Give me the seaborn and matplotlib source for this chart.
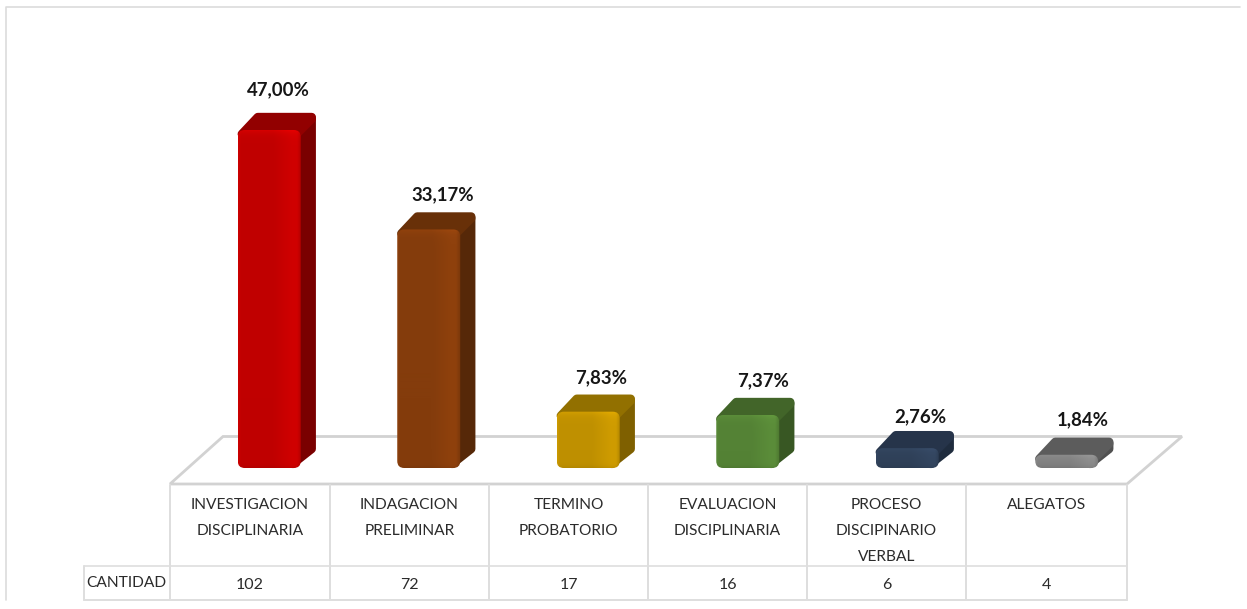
import numpy as np
import pandas as pd
import matplotlib
matplotlib.use("Agg")
import matplotlib.pyplot as plt
from matplotlib.patches import Polygon, FancyBboxPatch
from matplotlib.colors import to_rgb
import seaborn as sns

names = ["INVESTIGACION\nDISCIPLINARIA", "INDAGACION\nPRELIMINAR", "TERMINO\nPROBATORIO",
         "EVALUACION\nDISCIPLINARIA", "PROCESO\nDISCIPINARIO\nVERBAL", "ALEGATOS"]
pct = [47.00, 33.17, 7.83, 7.37, 2.76, 1.84]
labels = ["47,00%", "33,17%", "7,83%", "7,37%", "2,76%", "1,84%"]
counts = [102, 72, 17, 16, 6, 4]
front = ["#c00000", "#843c0c", "#bf9000", "#548235", "#2f4058", "#7f7f7f"]
side = ["#7a0000", "#562808", "#7f6000", "#385723", "#1f2c3e", "#505050"]
top = ["#920000", "#683008", "#927000", "#426529", "#26344a", "#5c5c5c"]
label_dx = [9, 14, 13, 15, 13, 16]
label_dy = [40, 35, 34, 34, 31, 35]

W, H = 1247, 609
sns.set_theme(style="white")
plt.rcParams['font.family'] = ['Lato', 'DejaVu Sans']
fig = plt.figure(figsize=(W/100, H/100), dpi=100)
bg = fig.add_axes([0, 0, 1, 1])
bg.axis("off")

GRID = "#dedede"
bg.plot([6, 6, 1240], [600, 7, 7], color="#dcdcdc", lw=1.2)
bg.add_patch(Polygon([[170, 484], [223, 436.5], [1182, 436.5], [1127, 484]], closed=True,
                     fc="white", ec="#d2d2d2", lw=2))

xs = [170, 330, 489, 648, 807, 966, 1127]
for x in xs:
    bg.plot([x, x], [485, 600], color=GRID, lw=1.4)
bg.plot([84, 84], [566, 600], color=GRID, lw=1.4)
bg.plot([84, 1127], [566, 566], color=GRID, lw=1.2)
bg.plot([84, 1127], [600, 600], color=GRID, lw=1.4)
TXT = "#2b2b2b"
bg.text(126, 583, "CANTIDAD", ha="center", va="center", fontsize=11.2, color=TXT)
for i, (n, c) in enumerate(zip(names, counts)):
    cx = (xs[i] + xs[i+1]) / 2
    for j, line in enumerate(n.split("\n")):
        bg.text(cx, 505 + 26*j, line, ha="center", va="center", fontsize=11.2, color=TXT)
    bg.text(cx, 585, str(c), ha="center", va="center", fontsize=11.5, color=TXT)

ax = fig.add_axes([189.5/W, 1-468/H, 957/W, 338/H])
ax.patch.set_alpha(0)
df = pd.DataFrame({"name": names, "pct": pct})
sns.barplot(data=df, x="name", y="pct", hue="name", palette=front, legend=False,
            width=0.395, ax=ax, saturation=1, zorder=3)
ax.set_xlim(-0.5, 5.5); ax.set_ylim(0, 47.0)
ax.axis("off")

dx, dy = 15, 16
for i, b in enumerate(ax.patches):
    x0, w, h = b.get_x(), b.get_width(), b.get_height()
    p0 = ax.transData.transform((x0, 0)); p1 = ax.transData.transform((x0 + w, h))
    l, r = p0[0], p1[0]; yb, yt = H - p0[1], H - p1[1]
    b.set_visible(False)
    inset = 4
    # side face
    bg.add_patch(Polygon([[r-8, yb-inset], [r+dx-inset, yb-dy-inset+1], [r+dx-inset, yt-dy+inset], [r-8, yt+inset]],
                 closed=True, fc=side[i], ec=side[i], lw=6, joinstyle="round", zorder=3))
    # top face
    bg.add_patch(Polygon([[l+inset, yt+4], [l+20, yt-dy-1+inset], [r+dx-inset, yt-dy-1+inset], [r+dx-inset, yt-dy+5], [r-4, yt+4]],
                 closed=True, fc=top[i], ec=top[i], lw=6, joinstyle="round", zorder=3.5))
    # front face: shaded image clipped to a rounded box
    nx, ny = 64, max(int(yb-yt), 4)
    u = np.linspace(0, 1, nx)
    across = np.interp(u, [0, 0.04, 0.55, 0.85, 0.93, 1], [1.06, 1.0, 1.0, 1.08, 1.08, 0.92])
    v = (np.arange(ny) + 0.5)
    down = 1 + 0.12*np.exp(-v/4.0) - 0.08*np.exp(-(ny-v)/2.0)
    shade = np.outer(down, across)[..., None]
    img = np.clip(np.array(to_rgb(front[i]))[None, None, :]*shade, 0, 1)
    im = bg.imshow(img, extent=(l, r, yb, yt), aspect="auto", zorder=4, interpolation="bilinear")
    clip = FancyBboxPatch((l, yt), r-l, yb-yt, boxstyle="round,pad=0,rounding_size=7",
                          fc="none", ec="none", zorder=4)
    bg.add_patch(clip)
    im.set_clip_path(clip)
    bg.text((l+r)/2 + label_dx[i], yt - label_dy[i], labels[i], ha="center", va="center",
            fontsize=13.4, fontweight="bold", color="#161616", zorder=5)

bg.set_xlim(0, W); bg.set_ylim(H, 0)
fig.savefig("out.png", dpi=100)
